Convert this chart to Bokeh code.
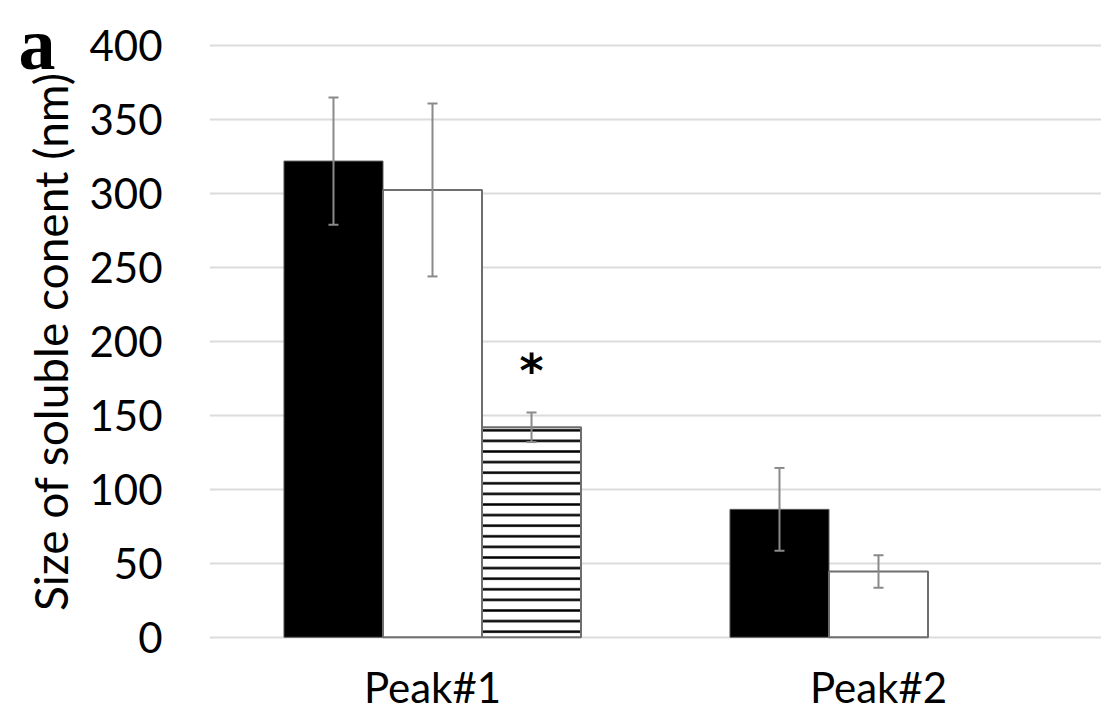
from bokeh.plotting import figure
from bokeh.models import (ColumnDataSource, Whisker, TeeHead, FactorRange, SingleIntervalTicker,
                          LinearAxis, FixedTicker, Range1d)
from bokeh.transform import dodge
from bokeh.core.properties import value
from bokeh.embed import file_html
from bokeh.resources import INLINE

categories = ["Peak#1", "Peak#2"]
series_a = [322, 86.5]
series_a_err = [43, 28]
series_b = [302.5, 44.5]
series_b_err = [58.5, 11]
series_c = [142, 0]
series_c_err = [10, 0]
star_value = 180
panel_tag = "a"

BAR_W = 0.222

p = figure(x_range=FactorRange(factors=categories), y_range=(-1.5, 401.5),
           width=1101, height=714, output_backend="svg", toolbar_location=None,
           min_border_left=209, min_border_right=0, min_border_top=43, min_border_bottom=71)
p.outline_line_color = None
p.background_fill_color = "white"
p.border_fill_color = "white"

src = ColumnDataSource(dict(cat=categories, a=series_a, b=series_b, c=series_c,
                            a_lo=[v - e for v, e in zip(series_a, series_a_err)],
                            a_hi=[v + e for v, e in zip(series_a, series_a_err)],
                            b_lo=[v - e for v, e in zip(series_b, series_b_err)],
                            b_hi=[v + e for v, e in zip(series_b, series_b_err)]))
src_c = ColumnDataSource(dict(cat=categories[:1], c=series_c[:1],
                              c_lo=[series_c[0] - series_c_err[0]],
                              c_hi=[series_c[0] + series_c_err[0]]))

p.vbar(x=dodge("cat", -BAR_W, range=p.x_range), top="a", width=BAR_W, source=src,
       fill_color="black", line_color="#5a5a5a", line_width=1)
p.vbar(x=dodge("cat", 0, range=p.x_range), top="b", width=BAR_W, source=src,
       fill_color="white", line_color="#6e6e6e", line_width=2)
p.vbar(x=dodge("cat", BAR_W, range=p.x_range), top="c", width=BAR_W, source=src_c,
       fill_color="white", line_color="#6e6e6e", line_width=2,
       hatch_pattern="horizontal_line", hatch_color="black", hatch_scale=10.6, hatch_weight=2.5)

for base, s, off in [("a", src, -BAR_W), ("b", src, 0), ("c", src_c, BAR_W)]:
    w = Whisker(base=dodge("cat", off, range=p.x_range), lower=base + "_lo", upper=base + "_hi",
                source=s, line_color="#8a8a8a", line_width=2, level="overlay",
                upper_head=TeeHead(size=10, line_color="#8a8a8a", line_width=2),
                lower_head=TeeHead(size=10, line_color="#8a8a8a", line_width=2))
    p.add_layout(w)

star_src = ColumnDataSource(dict(cat=categories[:1], y=[star_value], t=["*"]))
p.text(x=dodge("cat", BAR_W, range=p.x_range), y="y", text="t", source=star_src,
       text_font=value("DejaVu Sans"), text_font_style="bold", text_font_size="46px",
       text_align="center", text_baseline="middle", text_color="black")

p.xgrid.grid_line_color = None
p.ygrid.grid_line_color = "#dcdcdc"
p.ygrid.grid_line_width = 2
p.yaxis.ticker = SingleIntervalTicker(interval=50)

for ax in (p.xaxis[0], p.yaxis[0]):
    ax.axis_line_color = None
    ax.major_tick_line_color = None
    ax.minor_tick_line_color = None
    ax.major_label_text_font = "Lato"
    ax.major_label_text_font_size = "42px"
    ax.major_label_text_color = "black"
p.yaxis.major_label_standoff = 41
p.xaxis.major_label_standoff = 16
p.yaxis.axis_label = "Size of soluble conent (nm)"
p.yaxis.axis_label_text_font = "Lato"
p.yaxis.axis_label_text_font_style = "normal"
p.yaxis.axis_label_text_font_size = "46px"
p.yaxis.axis_label_text_color = "black"
p.yaxis.axis_label_standoff = 8

# panel tag "a" drawn as the single label of an extra, line-less axis
p.extra_y_ranges = {"tag": Range1d(start=-1.0, end=400.5)}
tag_axis = LinearAxis(y_range_name="tag", ticker=FixedTicker(ticks=[400]),
                      major_label_overrides={400: panel_tag},
                      axis_line_color=None, major_tick_line_color=None, minor_tick_line_color=None,
                      major_label_text_font="Liberation Serif", major_label_text_font_style="bold",
                      major_label_text_font_size="74px", major_label_text_color="black",
                      major_label_standoff=-41)
p.add_layout(tag_axis, "left")

open("out.html", "w").write(file_html(p, INLINE))
